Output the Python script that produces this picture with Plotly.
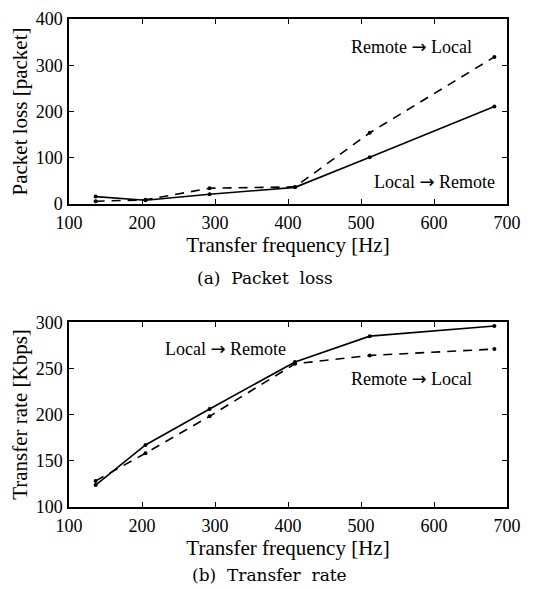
import plotly.graph_objects as go

freq = [136.5, 204.8, 292.6, 409.6, 512, 682.7]
loss_local_remote = [16, 8, 21, 36, 101, 211]
loss_remote_local = [6, 9, 34, 37, 154, 318]
rate_local_remote = [123.5, 167, 206, 257, 285, 296]
rate_remote_local = [128, 158, 198, 255, 264, 271]

x_ticks = [100, 200, 300, 400, 500, 600, 700]
loss_ticks = [0, 100, 200, 300, 400]
rate_ticks = [100, 150, 200, 250, 300]

FONT = "Liberation Serif"
W, H = 525, 581
OFF = 8  # default page body margin

fig = go.Figure()
line_solid = dict(color="black", width=1.6)
line_dash = dict(color="black", width=1.6, dash="9px,7px")
mk = dict(color="black", size=4)

fig.add_trace(go.Scatter(x=freq, y=loss_local_remote, mode="lines+markers", line=line_solid, marker=mk, xaxis="x", yaxis="y", name="Local → Remote"))
fig.add_trace(go.Scatter(x=freq, y=loss_remote_local, mode="lines+markers", line=line_dash, marker=mk, xaxis="x", yaxis="y", name="Remote → Local"))
fig.add_trace(go.Scatter(x=freq, y=rate_local_remote, mode="lines+markers", line=line_solid, marker=mk, xaxis="x2", yaxis="y2", name="Local → Remote"))
fig.add_trace(go.Scatter(x=freq, y=rate_remote_local, mode="lines+markers", line=line_dash, marker=mk, xaxis="x2", yaxis="y2", name="Remote → Local"))

def px_x(p):
    return (p - OFF) / W

def px_y(p):
    return 1 - (p - OFF) / H

axis_common = dict(
    showline=True, linecolor="black", linewidth=1.5, mirror="ticks",
    ticks="inside", ticklen=5, tickcolor="black", tickwidth=1,
    showgrid=False, zeroline=False, automargin=False,
    tickfont=dict(family=FONT, size=18, color="black"),
)

dom_x = [px_x(69), px_x(507)]
xt = dict(text="Transfer frequency [Hz]", font=dict(family=FONT, size=21), standoff=0)

fig.update_layout(
    width=W, height=H,
    margin=dict(l=0, r=0, t=0, b=0),
    paper_bgcolor="white", plot_bgcolor="white",
    showlegend=False,
    font=dict(family=FONT, color="black"),
    xaxis=dict(axis_common, domain=dom_x, anchor="y", range=[100, 700], tickvals=x_ticks,
               ticklabelstandoff=2, title=xt),
    yaxis=dict(axis_common, domain=[px_y(204), px_y(19)], anchor="x", range=[0, 400], tickvals=loss_ticks,
               ticklabelstandoff=1,
               title=dict(text="Packet loss [packet]", font=dict(family=FONT, size=21), standoff=2)),
    xaxis2=dict(axis_common, domain=dom_x, anchor="y2", range=[100, 700], tickvals=x_ticks,
                ticklabelstandoff=2, title=xt),
    yaxis2=dict(axis_common, domain=[px_y(506.7), px_y(322.3)], anchor="x2", range=[100, 300], tickvals=rate_ticks,
                ticklabelstandoff=1,
                title=dict(text="Transfer rate [Kbps]", font=dict(family=FONT, size=21), standoff=2)),
)

ann_font = dict(family=FONT, size=18, color="black")
ARROW = '<span style="font-family:DejaVu Sans">→</span>'

def note(text, x, y, font):
    fig.add_annotation(text=text, x=px_x(x), y=px_y(y), xref="paper", yref="paper",
                       xanchor="center", yanchor="middle", showarrow=False, font=font)

note(f"Remote {ARROW} Local", 411, 47, ann_font)
note(f"Local {ARROW} Remote", 434.7, 181.7, ann_font)
note(f"Local {ARROW} Remote", 225, 348.3, ann_font)
note(f"Remote {ARROW} Local", 411, 378, ann_font)

cap_font = dict(family="DejaVu Serif", size=17, color="black")
note("(a)  Packet  loss", 265, 278, cap_font)
note("(b)  Transfer  rate", 269, 575, cap_font)

fig.write_html("out.html")
